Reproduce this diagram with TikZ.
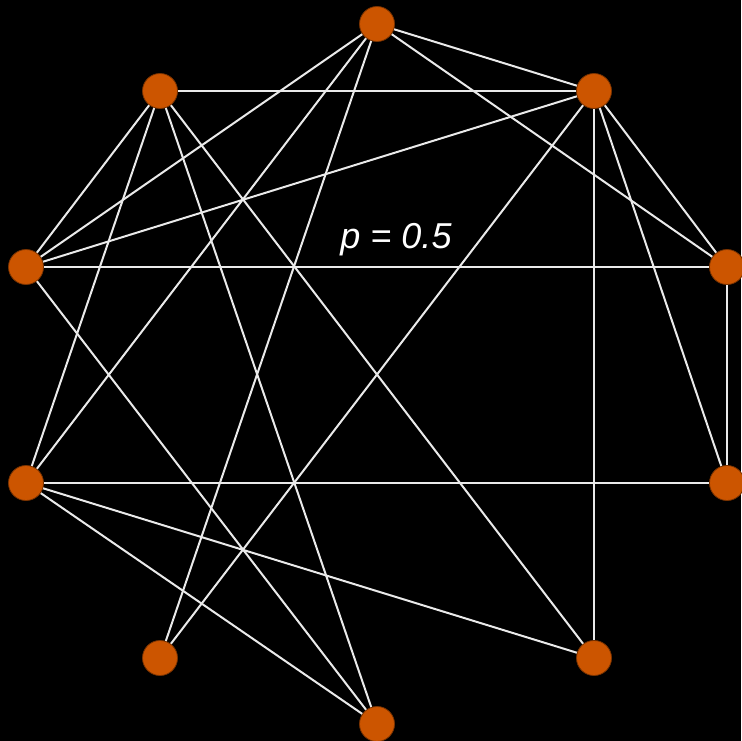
\documentclass[tikz,border=0pt]{standalone}
\usepackage{fontspec}
\setmainfont{Liberation Sans}
\definecolor{nodeorange}{HTML}{CC5500}
\definecolor{nodeedge}{HTML}{7A3300}
\definecolor{edgecol}{HTML}{EAEAEA}
\begin{document}
\begin{tikzpicture}[x=1pt,y=-1pt,
  vtx/.style={circle,fill=nodeorange,draw=nodeedge,line width=0.8pt,minimum size=35pt,inner sep=0pt},
  link/.style={draw=edgecol,line width=2pt}]
\fill[black] (0,0) rectangle (741,741);
\useasboundingbox (0,0) rectangle (741,741);
\coordinate (A) at (377,24);
\coordinate (B) at (160,91);
\coordinate (C) at (594,91);
\coordinate (D) at (26,267);
\coordinate (E) at (727,267);
\coordinate (F) at (26,483);
\coordinate (G) at (727,483);
\coordinate (H) at (160,658);
\coordinate (I) at (594,658);
\coordinate (J) at (377,724);
\foreach \u/\v in {A/C,A/E,A/D,A/F,A/H,B/C,B/D,B/F,B/J,B/I,C/D,C/H,C/I,C/G,C/E,D/E,D/J,F/G,F/I,F/J,E/G}
  \draw[link] (\u) -- (\v);
\foreach \n in {A,B,C,D,E,F,G,H,I,J}
  \node[vtx] (n\n) at (\n) {};
\node[text=white,font=\fontsize{36}{40}\selectfont\itshape] (lbl) at (396,240) {p = 0.5};
\end{tikzpicture}
\end{document}
